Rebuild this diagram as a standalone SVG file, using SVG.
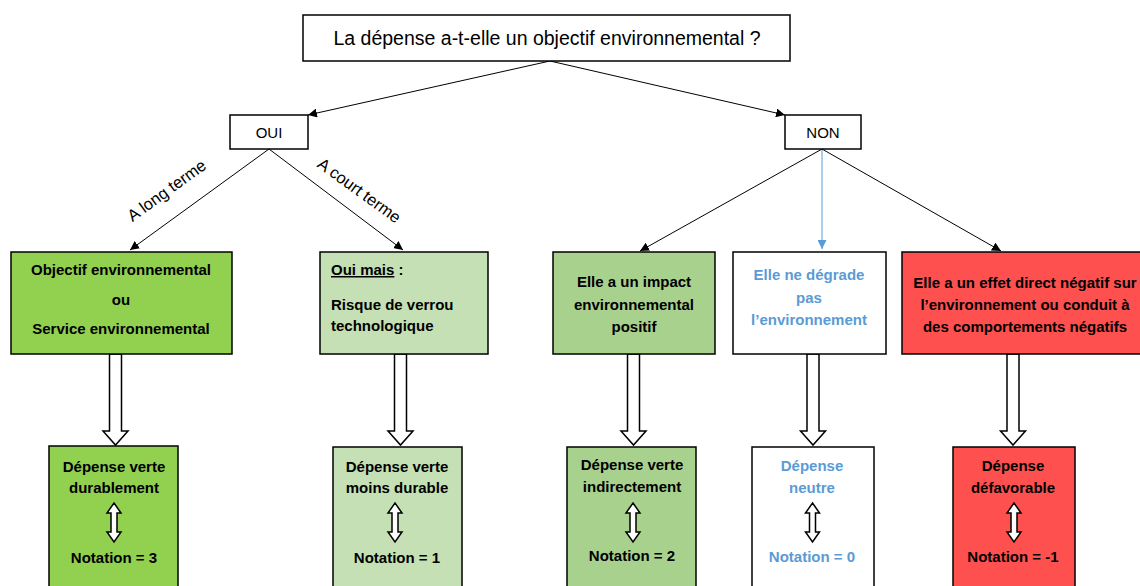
<svg xmlns="http://www.w3.org/2000/svg" width="1140" height="586" viewBox="0 0 1140 586">
<defs>
<marker id="ah" viewBox="0 0 10 10" refX="10" refY="5" markerWidth="9" markerHeight="9" markerUnits="userSpaceOnUse" orient="auto"><path d="M0,0 L10,5 L0,10 Z" fill="#000"/></marker>
<marker id="ahb" viewBox="0 0 10 10" refX="10" refY="5" markerWidth="9" markerHeight="9" markerUnits="userSpaceOnUse" orient="auto"><path d="M0,0 L10,5 L0,10 Z" fill="#5B9BD5"/></marker>
<path id="dbl" d="M0,0 L7,10 L3,10 L3,29 L7,29 L0,39 L-7,29 L-3,29 L-3,10 L-7,10 Z" fill="#fff" stroke="#000" stroke-width="1.5"/>
<path id="blk" d="M-6,0 L6,0 L6,77 L12.5,77 L0,91 L-12.5,77 L-6,77 Z" fill="#fff" stroke="#000" stroke-width="1.5"/>
</defs>
<style>
text{font-family:"Liberation Sans",Arial,sans-serif;fill:#000;}
.b{font-weight:bold;font-size:15px;text-anchor:middle;}
.s{text-anchor:start;}
.bl{fill:#5B9BD5;}
.box{stroke:#000;stroke-width:1.5;}
.conn{stroke:#000;stroke-width:1;fill:none;}
.lbl{font-size:16.5px;text-anchor:middle;}
</style>
<rect width="1140" height="586" fill="#fff"/>

<g id="connectors">
<line class="conn" x1="550" y1="61" x2="308" y2="115" marker-end="url(#ah)"/>
<line class="conn" x1="550" y1="61" x2="785" y2="115" marker-end="url(#ah)"/>
<line class="conn" x1="269" y1="149" x2="130" y2="250" marker-end="url(#ah)"/>
<line class="conn" x1="269" y1="149" x2="403" y2="250" marker-end="url(#ah)"/>
<line class="conn" x1="822" y1="149" x2="640" y2="251" marker-end="url(#ah)"/>
<line x1="822" y1="149" x2="822" y2="249" stroke="#5B9BD5" stroke-width="1" marker-end="url(#ahb)"/>
<line class="conn" x1="822" y1="149" x2="1001" y2="251" marker-end="url(#ah)"/>
<text class="lbl" transform="translate(170,195) rotate(-36)">A long terme</text>
<text class="lbl" transform="translate(356,195) rotate(36)">A court terme</text>
<use href="#blk" x="115.5" y="354"/>
<use href="#blk" x="400.5" y="354"/>
<use href="#blk" x="633.5" y="354"/>
<use href="#blk" x="813" y="354"/>
<use href="#blk" x="1013" y="354"/>
</g>

<g id="question">
<rect class="box" x="303" y="15" width="487" height="46" fill="#fff"/>
<text x="547" y="45" font-size="19.5" text-anchor="middle">La dépense a-t-elle un objectif environnemental ?</text>
</g>
<g id="oui">
<rect class="box" x="230" y="115" width="78" height="34" fill="#fff"/>
<text x="269" y="138" font-size="15" text-anchor="middle">OUI</text>
</g>
<g id="non">
<rect class="box" x="785" y="115" width="76" height="34" fill="#fff"/>
<text x="823" y="138" font-size="15" text-anchor="middle">NON</text>
</g>

<g id="objectif">
<rect class="box" x="11" y="252" width="221" height="102" fill="#92D050"/>
<text class="b" x="121" y="275">Objectif environnemental</text>
<text class="b" x="121" y="305">ou</text>
<text class="b" x="121" y="334">Service environnemental</text>
</g>
<g id="ouimais">
<rect class="box" x="320" y="252" width="168" height="102" fill="#C5E0B4"/>
<text class="b s" x="331" y="275"><tspan text-decoration="underline">Oui mais</tspan> :</text>
<text class="b s" x="331" y="310">Risque de verrou</text>
<text class="b s" x="331" y="331">technologique</text>
</g>
<g id="impact">
<rect class="box" x="553" y="252" width="162" height="102" fill="#A9D18E"/>
<text class="b" x="634" y="287">Elle a un impact</text>
<text class="b" x="634" y="310">environnemental</text>
<text class="b" x="634" y="332">positif</text>
</g>
<g id="degrade">
<rect class="box" x="733" y="252" width="153" height="102" fill="#fff"/>
<text class="b bl" x="809" y="280">Elle ne dégrade</text>
<text class="b bl" x="809" y="303">pas</text>
<text class="b bl" x="809" y="325">l’environnement</text>
</g>
<g id="negatif">
<rect class="box" x="902" y="252" width="245" height="102" fill="#FF5050"/>
<text class="b" x="1025" y="288">Elle a un effet direct négatif sur</text>
<text class="b" x="1025" y="310">l’environnement ou conduit à</text>
<text class="b" x="1025" y="332">des comportements négatifs</text>
</g>

<g id="n3">
<rect class="box" x="49" y="446" width="129" height="160" fill="#92D050"/>
<text class="b" x="114" y="472">Dépense verte</text>
<text class="b" x="114" y="493">durablement</text>
<use href="#dbl" x="114" y="503"/>
<text class="b" x="114" y="563">Notation = 3</text>
</g>
<g id="n1">
<rect class="box" x="333" y="447" width="129" height="160" fill="#C5E0B4"/>
<text class="b" x="397" y="472">Dépense verte</text>
<text class="b" x="397" y="493">moins durable</text>
<use href="#dbl" x="395" y="503"/>
<text class="b" x="397" y="563">Notation = 1</text>
</g>
<g id="n2">
<rect class="box" x="567" y="447" width="129" height="160" fill="#A9D18E"/>
<text class="b" x="632" y="470">Dépense verte</text>
<text class="b" x="632" y="492">indirectement</text>
<use href="#dbl" x="633" y="503"/>
<text class="b" x="632" y="561">Notation = 2</text>
</g>
<g id="n0">
<rect class="box" x="752" y="447" width="122" height="160" fill="#fff"/>
<text class="b bl" x="812" y="471">Dépense</text>
<text class="b bl" x="812" y="493">neutre</text>
<use href="#dbl" x="812.5" y="503"/>
<text class="b bl" x="812" y="562">Notation = 0</text>
</g>
<g id="nm1">
<rect class="box" x="953" y="447" width="122" height="160" fill="#FF5050"/>
<text class="b" x="1013" y="471">Dépense</text>
<text class="b" x="1013" y="493">défavorable</text>
<use href="#dbl" x="1014" y="503"/>
<text class="b" x="1013" y="562">Notation = -1</text>
</g>
</svg>
